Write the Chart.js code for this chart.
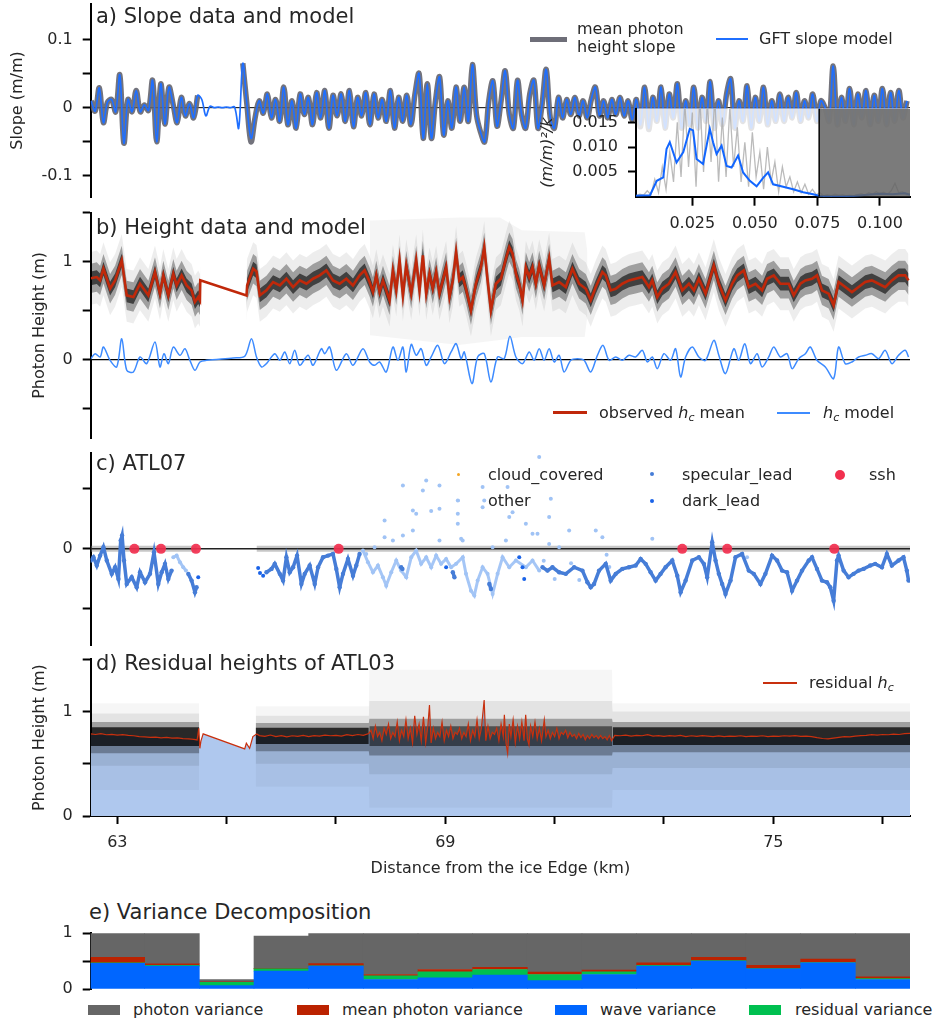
<!DOCTYPE html>
<html>
<head>
<meta charset="utf-8">
<title>Slope, height and variance decomposition along track</title>
<script src="https://cdn.jsdelivr.net/npm/chart.js@4.4.1/dist/chart.umd.min.js"></script>
<style>
  body { margin: 0; background: #fff; }
  #fig { position: relative; width: 935px; height: 1022px; overflow: hidden;
         font-family: "DejaVu Sans", sans-serif; color: #262626; }
  .pane { position: absolute; }
  .ttl { position: absolute; font-size: 21px; line-height: 21px; white-space: nowrap; }
  .lg  { position: absolute; font-size: 16px; line-height: 18px; white-space: nowrap; }
  .lg sub { font-size: 11px; vertical-align: -3px; line-height: 0; }
  .sw  { position: absolute; }
  .dot { position: absolute; border-radius: 50%; }
</style>
</head>
<body>
<div id="fig">
  <div class="pane" style="left:0;top:0;width:935px;height:205px"><canvas id="cA"></canvas></div>
  <div class="pane" style="left:0;top:205px;width:935px;height:240px"><canvas id="cB"></canvas></div>
  <div class="pane" style="left:0;top:445px;width:935px;height:205px"><canvas id="cC"></canvas></div>
  <div class="pane" style="left:0;top:650px;width:935px;height:232px"><canvas id="cD"></canvas></div>
  <div class="pane" style="left:0;top:925px;width:935px;height:70px"><canvas id="cE"></canvas></div>
  <div class="pane" style="left:520px;top:100px;width:415px;height:140px"><canvas id="cInset"></canvas></div>

  <!-- panel titles -->
  <div class="ttl" style="left:96px;top:5.5px">a) Slope data and model</div>
  <div class="ttl" style="left:96px;top:217px">b) Height data and model</div>
  <div class="ttl" style="left:96px;top:453px">c) ATL07</div>
  <div class="ttl" style="left:96px;top:653px">d) Residual heights of ATL03</div>
  <div class="ttl" style="left:89px;top:901.5px">e) Variance Decomposition</div>

  <!-- legend a -->
  <div class="sw" style="left:530px;top:36.5px;width:37px;height:5px;background:#6e6e78"></div>
  <div class="lg" style="left:577px;top:20px;line-height:17.5px">mean photon<br>height slope</div>
  <div class="sw" style="left:716px;top:38px;width:32px;height:1.6px;background:#1f6fff"></div>
  <div class="lg" style="left:759px;top:30px">GFT slope model</div>

  <!-- legend b -->
  <div class="sw" style="left:553px;top:411px;width:34px;height:3px;background:#c0280a"></div>
  <div class="lg" style="left:599px;top:404px">observed <i>h<sub>c</sub></i> mean</div>
  <div class="sw" style="left:777px;top:412px;width:33px;height:1.6px;background:#3d8bff"></div>
  <div class="lg" style="left:823px;top:404px"><i>h<sub>c</sub></i> model</div>

  <!-- legend c -->
  <div class="dot" style="left:456.5px;top:472.5px;width:3px;height:3px;background:#f5a623"></div>
  <div class="lg" style="left:488px;top:466px">cloud_covered</div>
  <div class="dot" style="left:456.5px;top:498.5px;width:3px;height:3px;background:#a0c3f5"></div>
  <div class="lg" style="left:488px;top:492px">other</div>
  <div class="dot" style="left:650px;top:472px;width:4px;height:4px;background:#467dd7"></div>
  <div class="lg" style="left:682px;top:466px">specular_lead</div>
  <div class="dot" style="left:650px;top:499px;width:4px;height:4px;background:#1a63e8"></div>
  <div class="lg" style="left:682px;top:492px">dark_lead</div>
  <div class="dot" style="left:835px;top:470px;width:10px;height:10px;background:#f2304f"></div>
  <div class="lg" style="left:869px;top:466px">ssh</div>

  <!-- legend d -->
  <div class="sw" style="left:763px;top:682px;width:34px;height:1.5px;background:#c8300e"></div>
  <div class="lg" style="left:809px;top:674px">residual <i>h<sub>c</sub></i></div>

  <!-- legend e -->
  <div class="sw" style="left:88px;top:1005px;width:32px;height:10px;background:#666666"></div>
  <div class="lg" style="left:133px;top:1001px">photon variance</div>
  <div class="sw" style="left:297px;top:1005px;width:32px;height:10px;background:#bb2200"></div>
  <div class="lg" style="left:342px;top:1001px">mean photon variance</div>
  <div class="sw" style="left:555px;top:1005px;width:32px;height:10px;background:#0066ff"></div>
  <div class="lg" style="left:600px;top:1001px">wave variance</div>
  <div class="sw" style="left:749px;top:1005px;width:32px;height:10px;background:#00c050"></div>
  <div class="lg" style="left:795px;top:1001px">residual variance</div>
</div>

<script>
// ── shared distance axis (km) ─────────────────────────────────────────────
const xMin = 62.513, xMax = 77.5;
const xTicks = [63, 65, 67, 69, 71, 73, 75, 77];
const xTickLabels = ['63', '', '', '69', '', '', '75', ''];

// ── a) slope: sampled every 75 m from 62.52 km ───────────────────────────
const slopeKm0 = 62.52, slopeStep = 0.075;
const slopeModel = [
  0.010,-0.005,0.029,-0.022,0.008,0.012,-0.006,0.048,-0.052,0.012,
  -0.006,0.025,-0.006,0.004,-0.004,0.040,-0.050,0.035,-0.024,0.030,
  0.005,-0.022,0.015,-0.012,0.006,-0.015,0.018,0.012,-0.012,0.002,
  0.000,0.001,0.000,0.001,0.000,0.001,-0.030,0.065,0.005,-0.045,
  -0.015,0.010,-0.008,0.020,-0.015,0.012,-0.020,0.030,-0.025,0.010,
  -0.030,0.020,-0.010,0.015,-0.025,0.022,-0.015,0.025,-0.030,0.018,
  -0.012,0.020,-0.020,0.025,-0.028,0.015,-0.012,0.022,-0.025,0.020,
  -0.015,0.012,-0.020,0.025,-0.030,0.015,-0.020,0.018,-0.025,0.020,
  0.050,-0.045,0.035,-0.045,0.010,0.045,-0.040,0.010,-0.030,0.030,
  -0.020,0.030,-0.020,0.063,-0.010,-0.036,-0.050,0.010,0.039,-0.027,
  0.010,0.054,-0.010,-0.030,0.040,-0.010,-0.030,0.020,0.040,-0.030,
  0.005,0.056,-0.015,-0.030,0.015,-0.015,0.012,-0.010,0.015,-0.012,
  0.010,-0.015,0.012,0.030,-0.012,0.010,-0.015,0.012,-0.010,0.015,
  -0.012,0.010,-0.018,0.012,-0.025,0.030,-0.030,0.015,-0.020,0.030,
  -0.030,0.020,-0.015,0.035,-0.030,0.010,-0.025,0.030,-0.030,0.015,
  -0.020,0.038,-0.030,0.010,-0.025,0.020,0.042,-0.030,0.010,-0.020,
  0.032,-0.030,0.015,-0.020,0.030,-0.025,0.010,-0.020,0.020,-0.020,
  0.015,-0.015,0.022,-0.020,0.010,-0.015,0.020,-0.020,0.010,0.000,
  -0.020,0.061,-0.025,0.015,-0.020,0.028,-0.025,0.020,-0.015,0.025,
  -0.025,0.018,-0.020,0.028,-0.025,0.022,-0.020,0.025,-0.015,0.010
];
const slopeObs = [
  0.010,-0.005,0.029,-0.022,0.008,0.012,-0.006,0.048,-0.052,0.012,
  -0.006,0.025,-0.006,0.004,-0.004,0.040,-0.050,0.035,-0.024,0.030,
  0.005,-0.022,0.015,-0.012,0.006,-0.015,0.018,null,null,null,
  null,null,null,null,null,null,null,0.065,0.005,-0.050,
  -0.015,0.010,-0.008,0.020,-0.015,0.012,-0.020,0.030,-0.025,0.010,
  -0.030,0.020,-0.010,0.015,-0.025,0.022,-0.015,0.025,-0.030,0.018,
  -0.012,0.020,-0.020,0.025,-0.028,0.015,-0.012,0.022,-0.025,0.020,
  -0.015,0.012,-0.020,0.025,-0.030,0.015,-0.020,0.018,-0.025,0.020,
  0.050,-0.045,0.035,-0.045,0.010,0.045,-0.040,0.010,-0.030,0.030,
  -0.020,0.030,-0.020,0.063,-0.010,-0.036,-0.050,0.010,0.039,-0.027,
  0.010,0.054,-0.010,-0.030,0.040,-0.010,-0.030,0.020,0.040,-0.030,
  0.005,0.056,-0.015,-0.030,0.015,-0.015,0.012,-0.010,0.015,-0.012,
  0.010,-0.015,0.012,0.030,-0.012,0.010,-0.015,0.012,-0.010,0.015,
  -0.012,0.010,-0.018,0.012,-0.028,0.030,-0.032,0.015,-0.020,0.030,
  -0.030,0.020,-0.015,0.035,-0.030,0.010,-0.025,0.030,-0.030,0.015,
  -0.020,0.038,-0.030,0.010,-0.025,0.020,0.042,-0.030,0.010,-0.020,
  0.032,-0.030,0.015,-0.020,0.030,-0.025,0.010,-0.020,0.020,-0.020,
  0.015,-0.015,0.022,-0.020,0.010,-0.015,0.020,-0.020,0.010,0.000,
  -0.020,0.061,-0.025,0.015,-0.020,0.028,-0.025,0.020,-0.015,0.025,
  -0.025,0.018,-0.020,0.028,-0.025,0.022,-0.020,0.025,-0.015,0.010
];
const slopeTicks = [-0.1, -0.05, 0, 0.05, 0.1];
const slopeTickLabels = ['-0.1', '', '0', '', '0.1'];

// inset: wavenumber spectrum
const rawK0 = 0.0025, rawStep = 0.0015;
const rawSpec = [
  0.0002,0.0005,0.0003,0.0012,0.0004,0.0035,0.0008,0.0060,0.0015,0.0090,
  0.0030,0.0150,0.0040,0.0190,0.0060,0.0170,0.0020,0.0200,0.0050,0.0190,
  0.0070,0.0200,0.0030,0.0160,0.0040,0.0180,0.0060,0.0140,0.0030,0.0110,
  0.0020,0.0130,0.0040,0.0090,0.0015,0.0100,0.0030,0.0070,0.0010,0.0060,
  0.0020,0.0040,0.0010,0.0030,0.0008,0.0025,0.0005,0.0015,0.0004,0.0008,
  0.0002,0.0004,0.0002,0.0005,0.0003,0.0004,0.0002,0.0003,0.0002,0.0004,
  0.0006,0.0003,0.0008,0.0005,0.0010,0.0006,0.0009,0.0005,0.0012,0.0027,
  0.0008,0.0010,0.0004,0.0006
];
const specK = [0.0025,0.0081,0.0108,0.0134,0.0147,0.016,0.0187,0.0214,0.024,0.0253,
  0.0267,0.0293,0.032,0.0333,0.0347,0.0367,0.0387,0.0407,0.0433,0.0453,
  0.048,0.0507,0.0533,0.0553,0.0573,0.0613,0.0653,0.0693,0.0733,0.0755,
  0.080,0.085,0.090,0.095,0.100,0.105,0.110,0.112];
const specSmooth = [0.0002,0.0003,0.0032,0.0039,0.0096,0.011,0.0069,0.009,0.0137,0.0134,
  0.0076,0.0066,0.0137,0.011,0.0086,0.0103,0.0062,0.0059,0.0083,0.0049,
  0.0032,0.0021,0.0038,0.0049,0.0025,0.002,0.0015,0.0009,0.0005,0.0002,
  0.0001,0.0001,0.0002,0.0004,0.0006,0.0005,0.0007,0.0004];
const cutoffK = [0.0757, 0.0757], cutoffV = [0, 0.0178];
const shadeK = [0.0757, 0.112], shadeV = [0.0178, 0.0178];
const insetXTicks = [0.025, 0.05, 0.075, 0.1];
const insetXLabels = ['0.025', '0.050', '0.075', '0.100'];
const insetYTicks = [0.005, 0.010, 0.015];
const insetYLabels = ['0.005', '0.010', '0.015'];

// ── b) heights ────────────────────────────────────────────────────────────
const hcKm = [62.515,62.624,62.685,62.746,62.868,62.959,63.081,63.172,63.294,63.415,
  63.567,63.689,63.780,63.841,63.933,64.024,64.085,64.176,64.267,64.359,
  64.420,64.480,64.511,64.517,65.363,65.375,65.485,65.546,65.606,65.728,
  65.850,65.972,66.093,66.215,66.337,66.459,66.580,66.702,66.824,66.945,
  67.067,67.189,67.311,67.432,67.524,67.615,67.676,67.737,67.798,67.859,
  67.919,67.980,68.041,68.102,68.163,68.224,68.285,68.376,68.467,68.528,
  68.589,68.650,68.711,68.771,68.832,68.893,68.954,69.015,69.076,69.137,
  69.197,69.256,69.319,69.378,69.469,69.560,69.652,69.712,69.773,69.834,
  69.925,70.017,70.108,70.169,70.230,70.291,70.352,70.412,70.473,70.534,
  70.595,70.656,70.717,70.808,70.899,70.960,71.082,71.204,71.325,71.447,
  71.569,71.660,71.751,71.873,71.934,72.025,72.117,72.238,72.360,72.482,
  72.604,72.725,72.786,72.877,72.969,73.090,73.212,73.334,73.456,73.547,
  73.638,73.760,73.912,74.003,74.125,74.247,74.338,74.460,74.551,74.673,
  74.795,74.886,75.008,75.129,75.282,75.373,75.495,75.586,75.707,75.799,
  75.890,76.012,76.103,76.194,76.316,76.438,76.560,76.681,76.803,76.925,
  77.047,77.168,77.290,77.412,77.473];
const hcObs = [0.830,0.843,0.809,0.928,0.724,0.809,1.013,0.656,0.639,0.775,
  0.656,0.894,0.673,0.860,0.656,0.877,0.758,0.860,0.758,0.707,
  0.588,0.639,0.605,0.809,0.654,0.760,0.928,0.900,0.656,0.707,
  0.792,0.758,0.826,0.741,0.809,0.775,0.826,0.860,0.911,0.809,
  0.775,0.826,0.758,0.860,0.911,0.792,0.690,0.860,0.690,0.809,
  0.707,0.605,0.911,0.707,1.013,0.656,0.962,0.673,1.013,0.707,
  1.064,0.673,0.877,0.724,0.894,0.673,0.809,0.945,0.639,0.809,
  1.098,0.809,0.843,0.724,0.503,0.775,0.945,1.149,0.809,0.503,
  0.775,0.826,1.030,1.149,1.081,0.877,0.775,0.605,0.945,0.843,
  0.945,0.775,0.962,0.758,1.030,0.758,0.792,0.741,0.928,0.775,
  0.724,0.605,0.741,0.894,0.860,0.707,0.724,0.775,0.809,0.826,
  0.843,0.741,0.809,0.639,0.724,0.775,0.894,0.707,0.775,0.707,
  0.826,0.673,0.962,0.775,0.605,0.775,0.860,0.911,0.741,0.775,
  0.707,0.826,0.860,0.775,0.775,0.656,0.775,0.809,0.826,0.860,
  0.707,0.673,0.554,0.792,0.741,0.690,0.741,0.792,0.809,0.775,
  0.741,0.809,0.860,0.860,0.809];
const hcModelKm = [62.515,62.594,62.685,62.746,62.868,62.989,63.081,63.172,63.294,63.415,
  63.537,63.689,63.780,63.853,63.933,64.024,64.146,64.237,64.328,64.420,
  64.511,64.633,65.119,65.332,65.454,65.546,65.637,65.728,65.880,65.972,
  66.063,66.154,66.245,66.337,66.489,66.580,66.732,66.793,66.884,67.006,
  67.189,67.311,67.493,67.615,67.706,67.798,67.919,68.041,68.132,68.224,
  68.285,68.376,68.467,68.558,68.650,68.741,68.863,68.984,69.106,69.197,
  69.289,69.347,69.487,69.591,69.712,69.834,69.956,70.078,70.181,70.291,
  70.412,70.534,70.625,70.717,70.808,70.899,70.991,71.082,71.173,71.295,
  71.417,71.538,71.660,71.782,71.885,71.995,72.117,72.238,72.360,72.482,
  72.604,72.695,72.786,72.877,72.999,73.121,73.212,73.304,73.395,73.517,
  73.638,73.760,73.912,74.003,74.125,74.277,74.368,74.478,74.582,74.703,
  74.795,74.916,75.008,75.129,75.251,75.343,75.464,75.586,75.677,75.799,
  75.951,76.103,76.194,76.316,76.438,76.560,76.681,76.803,76.925,77.047,
  77.168,77.290,77.412,77.473];
const hcModel = [0.010,0.060,0.027,0.129,-0.007,-0.075,0.214,-0.109,-0.126,0.027,
  -0.041,0.180,-0.075,0.061,-0.041,0.129,0.044,0.112,-0.007,-0.109,
  -0.024,-0.007,0.017,0.034,0.214,0.027,-0.075,-0.041,0.061,-0.007,
  0.078,-0.041,0.095,-0.058,0.044,-0.058,0.112,0.061,0.129,-0.109,
  0.061,-0.058,0.112,-0.024,-0.058,-0.024,-0.126,0.129,-0.007,0.129,
  -0.126,0.156,0.044,0.112,-0.058,0.027,0.146,-0.041,0.078,0.163,
  0.010,0.078,-0.245,0.027,0.061,-0.228,0.027,0.010,0.238,0.027,
  -0.041,0.078,-0.007,0.112,-0.007,0.112,-0.024,0.044,-0.126,-0.007,
  0.010,-0.007,-0.126,0.044,0.146,-0.007,0.027,-0.007,0.044,0.027,
  0.095,-0.024,0.027,-0.092,0.061,-0.007,0.112,-0.177,0.027,0.129,
  0.027,-0.007,0.197,0.044,-0.143,0.112,-0.007,0.163,-0.041,0.061,
  -0.075,0.027,0.129,0.027,0.061,-0.092,0.010,0.061,0.129,-0.007,
  -0.075,-0.194,0.129,-0.041,-0.024,0.027,0.044,0.061,0.010,0.095,
  -0.041,0.044,0.095,0.027];
// photon cloud: faint streaky envelope of the noisy stretch, and spreads around the mean
const bFaintKm  = [67.62,69.25,70.00,70.40,71.55,71.60];
const bFaintTop = [1.42,1.45,1.45,1.32,1.30,1.10];
const bFaintBot = [0.25,0.15,0.20,0.23,0.23,0.45];
const bOuterSpread = 0.27, bMidSpread = 0.15, bCoreSpread = 0.07;
const bGap = [64.52, 65.36];
const bTicks = [-0.5, 0, 0.5, 1, 1.5];
const bTickLabels = ['', '0', '', '1', ''];

// ── c) ATL07 ──────────────────────────────────────────────────────────────
const specKm = [62.515,62.563,62.624,62.685,62.746,62.807,62.898,62.959,63.020,63.062,
  63.087,63.123,63.172,63.263,63.354,63.415,63.507,63.598,63.671,63.750,
  63.811,63.872,63.933,63.993,64.150,64.298,64.359,64.420,64.450,65.000,
  65.728,65.820,65.880,65.972,66.032,66.093,66.154,66.215,66.288,66.367,
  66.428,66.519,66.611,66.672,66.763,66.854,66.945,67.006,67.067,67.128,
  67.219,67.311,67.371,67.432,67.800,68.193,68.215,68.600,69.137,69.167,
  69.400,69.804,69.834,70.300,70.778,70.869,70.960,71.082,71.204,71.356,
  71.508,71.599,71.660,71.721,71.812,71.934,72.025,72.117,72.238,72.360,
  72.482,72.573,72.664,72.756,72.847,72.938,73.029,73.151,73.243,73.304,
  73.395,73.517,73.638,73.729,73.790,73.882,73.943,74.003,74.064,74.125,
  74.217,74.308,74.429,74.551,74.642,74.764,74.855,74.977,75.069,75.160,
  75.251,75.343,75.434,75.525,75.647,75.707,75.799,75.890,75.981,76.042,
  76.103,76.164,76.194,76.286,76.377,76.468,76.560,76.651,76.773,76.864,
  76.986,77.077,77.168,77.290,77.381,77.442,77.473];
const specH = [-0.097,-0.070,-0.139,-0.056,0.014,-0.097,-0.208,-0.153,-0.250,0.069,
  0.111,-0.097,-0.292,-0.236,-0.320,-0.195,-0.278,-0.208,-0.028,-0.292,
  -0.195,-0.125,-0.250,-0.181,null,-0.208,-0.264,-0.361,-0.320,null,
  -0.195,-0.167,-0.125,-0.208,-0.264,-0.070,-0.195,-0.153,-0.056,-0.292,
  -0.208,-0.139,-0.292,-0.153,-0.070,-0.056,-0.042,-0.167,-0.320,-0.208,
  -0.084,-0.223,-0.139,-0.042,null,-0.153,-0.167,null,-0.195,-0.236,
  null,-0.292,-0.334,null,-0.153,-0.181,-0.153,-0.195,-0.208,-0.153,
  -0.181,-0.278,-0.320,-0.292,-0.181,-0.125,-0.264,-0.208,-0.167,-0.153,
  -0.139,-0.084,-0.125,-0.195,-0.264,-0.208,-0.153,-0.097,-0.223,-0.361,
  -0.264,-0.097,-0.070,-0.125,-0.236,0.055,-0.097,-0.208,-0.292,-0.375,
  -0.264,-0.070,-0.042,-0.181,-0.208,-0.292,-0.208,-0.056,-0.097,-0.181,
  -0.195,-0.348,-0.264,-0.181,-0.097,-0.070,-0.167,-0.264,-0.278,-0.320,
  -0.431,-0.097,-0.056,-0.181,-0.236,-0.208,-0.181,-0.167,-0.139,-0.125,
  -0.153,-0.042,-0.139,-0.097,-0.070,-0.181,-0.264];
const otherKm = [64.024,64.085,64.146,64.206,64.255,65.000,67.493,67.584,67.676,67.767,
  67.858,67.919,68.011,68.102,68.193,68.285,68.376,68.467,68.558,68.650,
  68.741,68.832,68.923,69.015,69.106,69.197,69.319,69.378,69.469,69.530,
  69.591,69.682,69.773,69.865,69.956,70.047,70.169,70.291,70.473,70.595,70.717];
const otherH = [-0.070,-0.056,-0.111,-0.153,-0.181,null,-0.014,-0.111,-0.195,-0.139,
  -0.236,-0.306,-0.195,-0.097,-0.181,-0.236,-0.070,-0.014,-0.125,-0.070,
  -0.153,-0.056,-0.125,-0.084,-0.153,-0.125,-0.070,-0.208,-0.348,-0.389,
  -0.264,-0.153,-0.208,-0.375,-0.208,-0.070,-0.153,-0.097,-0.153,-0.097,-0.181];
const otherPtKm = [67.554,67.706,67.889,67.889,68.041,68.224,68.224,68.406,68.406,68.467,
  68.589,68.650,68.741,68.893,68.893,68.893,69.228,69.228,69.228,69.289,
  69.317,69.682,69.712,69.682,69.865,70.108,70.138,70.169,70.230,70.473,
  70.595,70.686,70.717,70.899,70.930,70.899,71.082,71.265,71.752,71.873,
  72.786,74.429,74.520,70.800,71.000,71.300,71.450,71.950,72.000];
const otherPtH = [-0.042,0.014,0.236,0.097,0.069,0.527,0.111,0.319,0.153,0.292,
  0.486,0.569,0.314,0.527,0.333,0.069,0.403,0.292,0.208,0.083,
  0.069,0.514,0.403,0.347,0.014,0.069,0.514,0.264,0.305,0.208,
  0.125,0.125,0.764,0.264,0.417,0.041,0.014,0.152,0.152,0.097,
  0.083,-0.042,-0.070,-0.100,-0.250,-0.120,-0.260,-0.050,-0.150];
const darkKm = [64.480,65.576,65.610,65.667,69.015,70.352,70.412,70.443];
const darkH  = [-0.236,-0.159,-0.200,-0.223,-0.153,-0.070,-0.153,-0.250];
const sshKm = [63.312,63.799,64.438,67.049,73.334,74.156,76.115];
const sshH  = [0, 0, 0, 0, 0, 0, 0];
const refKm = [62.513,64.45,64.46,65.55,77.5];
const refH  = [0, 0, null, 0, 0];
const cTicks = [-0.5, 0, 0.5];
const cTickLabels = ['', '0', ''];

// ── d) residual heights ───────────────────────────────────────────────────
const residKm = [62.515,62.60,62.70,62.80,62.90,63.00,63.10,63.20,63.30,63.40,
  63.50,63.60,63.70,63.80,63.90,64.00,64.10,64.20,64.30,64.40,
  64.46,64.49,64.51,64.53,64.57,65.33,65.36,65.42,65.48,65.55,
  65.6,65.7,65.8,65.9,66.0,66.1,66.2,66.3,66.4,66.5,
  66.6,66.7,66.8,66.9,67.0,67.1,67.2,67.3,67.4,67.5,67.6,
  67.64,67.68,67.72,67.76,67.80,67.84,67.88,67.92,67.96,68.00,
  68.04,68.08,68.12,68.16,68.20,68.24,68.28,68.32,68.36,68.40,
  68.44,68.48,68.52,68.56,68.60,68.64,68.68,68.71,68.74,68.78,
  68.82,68.86,68.90,68.94,68.98,69.02,69.06,69.10,69.14,69.18,
  69.22,69.26,69.30,69.34,69.38,69.42,69.46,69.50,69.54,69.58,
  69.62,69.66,69.71,69.74,69.78,69.82,69.86,69.90,69.94,69.98,
  70.02,70.06,70.08,70.11,70.14,70.17,70.20,70.24,70.28,70.32,
  70.36,70.40,70.44,70.47,70.50,70.53,70.56,70.60,70.64,70.68,
  70.72,70.76,70.81,70.84,70.88,70.92,70.96,71.00,71.04,71.08,
  71.12,71.16,71.20,71.24,71.28,71.32,71.36,71.40,71.44,71.48,
  71.52,71.56,71.60,71.64,71.68,71.72,71.76,71.80,71.84,71.88,
  71.92,71.96,72.00,72.04,
  72.1,72.2,72.3,72.4,72.5,72.6,72.7,72.8,72.9,73.0,
  73.1,73.2,73.3,73.4,73.5,73.6,73.7,73.8,73.9,74.0,
  74.1,74.2,74.3,74.4,74.5,74.6,74.7,74.8,74.9,75.0,
  75.1,75.2,75.3,75.4,75.5,75.6,75.7,75.8,75.9,76.0,
  76.1,76.2,76.3,76.4,76.5,76.6,76.7,76.8,76.9,77.0,
  77.1,77.2,77.3,77.4,77.5];
const resid = [0.786,0.780,0.788,0.778,0.782,0.775,0.779,0.772,0.768,0.760,
  0.758,0.752,0.755,0.748,0.752,0.745,0.748,0.740,0.738,0.733,
  0.728,0.840,0.648,0.720,0.786,0.642,0.696,0.648,0.760,0.786,
  0.770,0.762,0.775,0.760,0.770,0.758,0.768,0.762,0.772,0.760,
  0.770,0.765,0.775,0.768,0.772,0.765,0.778,0.770,0.780,0.772,0.790,
  0.82,0.74,0.86,0.76,0.80,0.72,0.84,0.78,0.88,0.74,
  0.80,0.76,0.90,0.72,0.82,0.76,0.92,0.74,0.84,0.70,
  0.96,0.78,0.88,0.72,0.95,0.70,0.86,1.063,0.70,0.84,
  0.74,0.80,0.76,0.90,0.72,0.82,0.76,0.86,0.74,0.80,
  0.78,0.84,0.74,0.80,0.76,0.88,0.72,0.82,0.76,0.92,
  0.74,0.84,1.11,0.72,0.86,0.74,0.80,0.78,0.84,0.72,
  0.88,0.76,0.97,0.70,0.60,0.88,0.76,0.92,0.70,0.86,
  0.74,0.90,0.72,0.97,0.74,0.68,0.86,0.76,0.90,0.74,
  0.84,0.72,0.92,0.76,0.82,0.74,0.80,0.76,0.84,0.74,
  0.80,0.78,0.82,0.75,0.80,0.76,0.78,0.74,0.79,0.75,
  0.78,0.73,0.77,0.74,0.78,0.75,0.77,0.74,0.77,0.74,
  0.76,0.73,0.77,0.72,
  0.772,0.768,0.775,0.765,0.772,0.768,0.778,0.765,0.770,0.762,
  0.770,0.765,0.772,0.760,0.768,0.762,0.770,0.765,0.760,0.766,
  0.760,0.765,0.762,0.768,0.760,0.765,0.762,0.768,0.760,0.765,
  0.762,0.768,0.765,0.770,0.762,0.765,0.760,0.750,0.742,0.738,
  0.745,0.752,0.760,0.758,0.765,0.770,0.772,0.778,0.775,0.780,
  0.778,0.784,0.780,0.788,0.790];
const dCloudKm   = [62.513,64.50,64.51,65.52,65.53,67.60,67.61,72.05,72.06,77.50];
const dCoreTop   = [0.85,0.85,null,null,0.845,0.845,null,null,0.85,0.85];
const dCoreBot   = [0.67,0.67,null,null,0.69,0.69,null,null,0.68,0.68];
const dNoisyTop  = [null,null,null,null,null,null,0.86,0.86,null,null];
const dNoisyBot  = [null,null,null,null,null,null,0.67,0.67,null,null];
const dMidTop    = [0.90,0.90,null,null,0.89,0.89,0.93,0.93,0.90,0.90];
const dMidBot    = [0.60,0.60,null,null,0.62,0.62,0.58,0.58,0.61,0.61];
const dHaloTop   = [0.98,0.98,null,null,0.96,0.96,1.10,1.10,1.00,1.00];
const dHaloBot   = [0.48,0.48,null,null,0.50,0.50,0.40,0.40,0.46,0.46];
const dFaintTop  = [1.08,1.08,null,null,1.05,1.05,1.40,1.40,1.08,1.08];
const dFaintBot  = [0.25,0.25,null,null,0.28,0.28,0.08,0.08,0.25,0.25];
const dTicks = [0, 0.5, 1, 1.5];
const dTickLabels = ['0', '', '1', ''];

// ── e) variance decomposition, 1 km segments ─────────────────────────────
const varKm     = [63,64,65,66,67,68,69,70,71,72,73,74,75,76,77];
const waveVar   = [0.46,0.41,0.06,0.32,0.41,0.17,0.20,0.25,0.15,0.26,0.41,0.50,0.36,0.47,0.17];
const residVar  = [0.010,0.015,0.06,0.04,0.005,0.065,0.11,0.10,0.11,0.05,0.015,0.01,0.005,0.005,0.015];
const meanVar   = [0.10,0.025,0.01,0.005,0.04,0.025,0.04,0.04,0.045,0.03,0.045,0.06,0.06,0.06,0.035];
const photonVar = [0.43,0.55,0.04,0.585,0.545,0.74,0.65,0.61,0.695,0.66,0.53,0.43,0.575,0.465,0.78];
const eTicks = [0, 0.5, 1];
const eTickLabels = ['0', '', '1'];

// ── helpers ───────────────────────────────────────────────────────────────
Chart.defaults.font.family = '"DejaVu Sans", sans-serif';
Chart.defaults.font.size = 16;
Chart.defaults.color = '#262626';

const pts = (xs, ys) => xs.map((x, i) => ({x: x, y: ys[i]}));

function spreadPts(xs, ys, off, gap) {
    const out = [];
    xs.forEach((x, i) => {
        if (i > 0 && xs[i - 1] < gap[0] && x > gap[1]) out.push({x: (gap[0] + gap[1]) / 2, y: null});
        out.push({x: x, y: ys[i] + off});
    });
    return out;
}

function yAx(min, max, ticks, labels, width, title, pad, titleFont) {
    return {
        type: 'linear', position: 'left', min: min, max: max,
        border: {display: true, color: '#000', width: 2},
        grid: {drawOnChartArea: false, drawTicks: true, tickLength: 8, tickWidth: 2, tickColor: '#000'},
        ticks: {autoSkip: false, padding: pad || 10, color: '#262626', callback: (v, i) => labels[i]},
        afterBuildTicks: s => { s.ticks = ticks.map(v => ({value: v})); },
        afterFit: s => { s.width = width; s.paddingTop = 0; s.paddingBottom = 0; },
        title: title ? {display: true, text: title, color: '#262626', padding: {top: 4, bottom: 4},
                        font: titleFont || {size: 16}} : {display: false}
    };
}
const hiddenX = () => ({type: 'linear', min: xMin, max: xMax, display: false});

function line(data, color, width, order, extra) {
    return Object.assign({type: 'line', data: data, borderColor: color, borderWidth: width,
        pointRadius: 0, fill: false, order: order, tension: 0}, extra || {});
}
function dots(data, color, r, order) {
    return {type: 'line', data: data, showLine: false, pointRadius: r, pointBackgroundColor: color,
        pointBorderWidth: 0, order: order};
}
function band(top, bot, color, order) {
    return [
        {type: 'line', data: top, borderWidth: 0, borderColor: 'transparent', backgroundColor: color,
         pointRadius: 0, fill: '+1', order: order},
        {type: 'line', data: bot, borderWidth: 0, borderColor: 'transparent', pointRadius: 0, fill: false, order: order}
    ];
}
function makeChart(id, type, datasets, scales, padding, plugins) {
    return new Chart(document.getElementById(id), {
        type: type,
        data: {datasets: datasets},
        options: {
            responsive: true, maintainAspectRatio: false, animation: false, events: [],
            layout: {padding: padding},
            plugins: {legend: {display: false}, tooltip: {enabled: false}},
            scales: scales
        },
        plugins: plugins || []
    });
}

// ── a) slope panel ────────────────────────────────────────────────────────
const slopeKm = slopeModel.map((_, i) => slopeKm0 + i * slopeStep);
makeChart('cA', 'line', [
    line(pts([xMin, xMax], [0, 0]), '#000', 1, 3),
    line(pts(slopeKm, slopeObs), 'rgba(100,100,110,0.9)', 5.5, 2, {tension: 0.35}),
    line(pts(slopeKm, slopeModel), '#1f6fff', 1.7, 1, {tension: 0.35})
], {
    x: hiddenX(),
    y: yAx(-0.131, 0.152, slopeTicks, slopeTickLabels, 86.3, 'Slope (m/m)')
}, {top: 4, bottom: 8, left: 4.4, right: 25});

// inset spectrum
const insetBg = {
    id: 'insetBg',
    beforeDraw(chart) {
        const {ctx, chartArea: a} = chart;
        ctx.save();
        ctx.fillStyle = 'rgba(255,255,255,0.8)';
        ctx.fillRect(a.left, a.top, a.right - a.left, a.bottom - a.top);
        ctx.restore();
    }
};
const rawK = rawSpec.map((_, i) => rawK0 + i * rawStep);
makeChart('cInset', 'line', [
    line(pts(shadeK, shadeV), 'transparent', 0, 1, {fill: 'origin', backgroundColor: 'rgba(100,100,100,0.85)'}),
    line(pts(cutoffK, cutoffV), '#000', 1.5, 0),
    line(pts(specK, specSmooth), '#1266ff', 2, 2),
    line(pts(rawK, rawSpec), 'rgba(170,170,170,0.8)', 1.3, 3)
], {
    x: {
        type: 'linear', min: 0.0025, max: 0.112,
        border: {display: true, color: '#000', width: 2},
        grid: {drawOnChartArea: false, tickLength: 9, tickWidth: 2, tickColor: '#000'},
        ticks: {autoSkip: false, maxRotation: 0, padding: 9, callback: (v, i) => insetXLabels[i]},
        afterBuildTicks: s => { s.ticks = insetXTicks.map(v => ({value: v})); },
        afterFit: s => { s.height = 43.3; s.paddingLeft = 0; s.paddingRight = 0; }
    },
    y: yAx(0, 0.0178, insetYTicks, insetYLabels, 102, '(m/m)²/k', 10, {size: 16, style: 'italic'})
}, {top: 8.5, bottom: 0, left: 14, right: 25}, [insetBg]);

// ── b) height panel ──────────────────────────────────────────────────────
makeChart('cB', 'line', [
    ...band(pts(bFaintKm, bFaintTop), pts(bFaintKm, bFaintBot), 'rgba(0,0,0,0.04)', 11),
    ...band(spreadPts(hcKm, hcObs, bOuterSpread, bGap), spreadPts(hcKm, hcObs, -bOuterSpread, bGap), 'rgba(0,0,0,0.07)', 10),
    ...band(spreadPts(hcKm, hcObs, bMidSpread, bGap), spreadPts(hcKm, hcObs, -bMidSpread, bGap), 'rgba(0,0,0,0.33)', 9),
    ...band(spreadPts(hcKm, hcObs, bCoreSpread, bGap), spreadPts(hcKm, hcObs, -bCoreSpread, bGap), 'rgba(0,0,0,0.6)', 8),
    line(pts([xMin, xMax], [0, 0]), '#000', 1.4, 3),
    line(pts(hcModelKm, hcModel), '#3d8bff', 1.5, 2, {tension: 0.3}),
    line(pts(hcKm, hcObs), '#c0280a', 2.6, 1)
], {
    x: hiddenX(),
    y: yAx(-0.8, 1.5, bTicks, bTickLabels, 64.3, 'Photon Height (m)')
}, {top: 7.7, bottom: 7, left: 26.4, right: 25});

// ── c) ATL07 panel ───────────────────────────────────────────────────────
makeChart('cC', 'line', [
    line(pts(refKm, refH), 'rgba(130,130,130,0.45)', 6, 8),
    line(pts([xMin, xMax], [0, 0]), '#222', 1.5, 7),
    line(pts(otherKm, otherH), 'rgba(160,195,245,0.95)', 3, 6, {pointRadius: 2, pointBackgroundColor: '#a0c3f5', pointBorderWidth: 0}),
    dots(pts(otherPtKm, otherPtH), '#a0c3f5', 2, 5),
    line(pts(specKm, specH), '#467dd7', 3.5, 4, {pointRadius: 2.2, pointBackgroundColor: '#467dd7', pointBorderWidth: 0}),
    dots(pts(darkKm, darkH), '#1a63e8', 2, 3),
    dots(pts(sshKm, sshH), 'rgba(242,48,79,0.92)', 5, 1)
], {
    x: hiddenX(),
    y: yAx(-0.8, 0.8, cTicks, cTickLabels, 64.3, null)
}, {top: 7.7, bottom: 5, left: 26.4, right: 25});

// ── d) residual panel ────────────────────────────────────────────────────
makeChart('cD', 'line', [
    line(pts(residKm, resid), 'transparent', 0, 14, {fill: 'origin', backgroundColor: '#afc8ee'}),
    ...band(pts(dCloudKm, dFaintTop), pts(dCloudKm, dFaintBot), 'rgba(0,0,0,0.035)', 13),
    ...band(pts(dCloudKm, dHaloTop), pts(dCloudKm, dHaloBot), 'rgba(0,0,0,0.08)', 12),
    ...band(pts(dCloudKm, dMidTop), pts(dCloudKm, dMidBot), 'rgba(0,0,0,0.3)', 11),
    ...band(pts(dCloudKm, dNoisyTop), pts(dCloudKm, dNoisyBot), 'rgba(0,0,0,0.5)', 10),
    ...band(pts(dCloudKm, dCoreTop), pts(dCloudKm, dCoreBot), 'rgba(0,0,0,0.75)', 9),
    line(pts(residKm, resid), '#c8300e', 1.2, 1)
], {
    x: {
        type: 'linear', min: xMin, max: xMax, position: 'bottom',
        border: {display: true, color: '#000', width: 2},
        grid: {drawOnChartArea: false, tickLength: 8, tickWidth: 2, tickColor: '#000'},
        ticks: {autoSkip: false, maxRotation: 0, padding: 9, callback: (v, i) => xTickLabels[i]},
        afterBuildTicks: s => { s.ticks = xTicks.map(v => ({value: v})); },
        afterFit: s => { s.height = 66; s.paddingLeft = 0; s.paddingRight = 0; },
        title: {display: true, text: 'Distance from the ice Edge (km)', color: '#262626', padding: {top: 4, bottom: 4}}
    },
    y: yAx(0, 1.5, dTicks, dTickLabels, 64.3, 'Photon Height (m)')
}, {top: 9.3, bottom: 0, left: 26.4, right: 25});

// ── e) variance decomposition ────────────────────────────────────────────
const bar = (ys, color) => ({type: 'bar', data: pts(varKm, ys), backgroundColor: color, borderWidth: 0,
    barPercentage: 1, categoryPercentage: 1});
makeChart('cE', 'bar', [
    bar(waveVar, '#0066ff'),
    bar(residVar, '#00c050'),
    bar(meanVar, '#bb2200'),
    bar(photonVar, '#666666')
], {
    x: {type: 'linear', min: xMin, max: xMax, display: false, stacked: true, offset: false, grid: {offset: false}},
    y: Object.assign(yAx(0, 1, eTicks, eTickLabels, 64.3, null), {stacked: true})
}, {top: 8.3, bottom: 6, left: 26.4, right: 25});
</script>
</body>
</html>
